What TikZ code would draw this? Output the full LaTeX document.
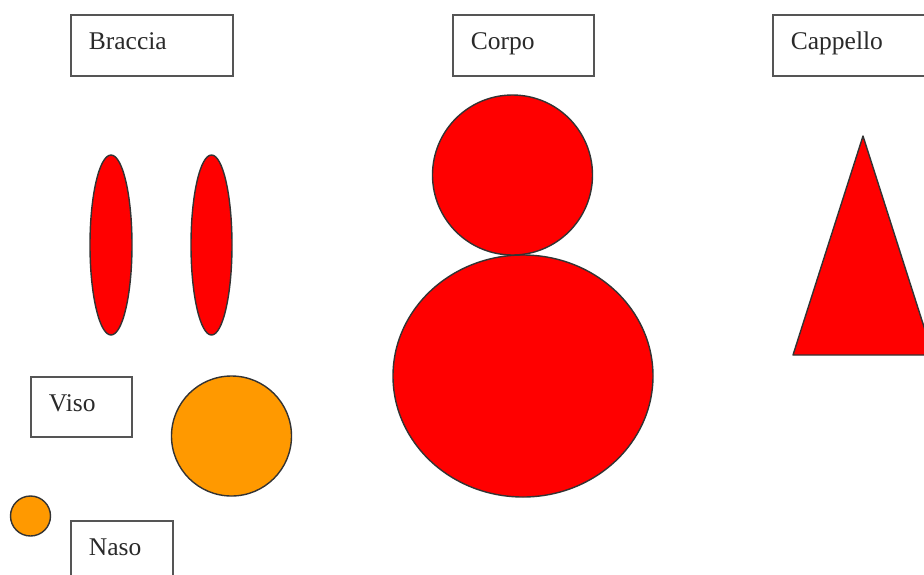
\documentclass[tikz,border=0pt]{standalone}
\usepackage{fontspec}
\setmainfont{Liberation Serif}
\usetikzlibrary{shapes.geometric}
\definecolor{redfill}{HTML}{FF0000}
\definecolor{orangefill}{HTML}{FF9900}
\definecolor{boxline}{HTML}{555555}
\definecolor{txt}{HTML}{2A2A2A}
\tikzset{
  lblbox/.style={draw=boxline, line width=1.8pt, fill=white, rectangle, anchor=north west,
    minimum height=61pt, inner xsep=18pt, inner ysep=0pt, text height=18pt, text depth=9pt,
    align=left, text=txt, font=\fontsize{25.5pt}{28pt}\selectfont},
  redshape/.style={fill=redfill, draw=black!80, line width=1.4pt},
  orangeshape/.style={fill=orangefill, draw=black!80, line width=1.4pt}
}
\begin{document}
\begin{tikzpicture}[x=1pt,y=-1pt]
\useasboundingbox (0,0) rectangle (924,574);
\clip (0,0) rectangle (924,574);
\fill[white] (0,0) rectangle (924,574);
% labels
\node[lblbox, minimum width=162pt, text width=126pt] (braccia) at (70,14) {Braccia};
\node[lblbox, minimum width=141pt, text width=105pt] (corpo) at (452,14) {Corpo};
\node[lblbox, minimum width=170pt, text width=134pt] (cappello) at (772,14) {Cappello};
\node[lblbox, minimum width=101pt, minimum height=60pt, text width=65pt] (viso) at (30,376) {Viso};
\node[lblbox, minimum width=102pt, text width=66pt] (naso) at (70,520) {Naso};
% arms
\draw[redshape] (111,245) ellipse [x radius=21, y radius=90];
\draw[redshape] (211.5,245) ellipse [x radius=20.5, y radius=90];
% body
\draw[redshape] (523,376) ellipse [x radius=130, y radius=121];
\draw[redshape] (512.5,175) circle [radius=80];
% hat
\draw[redshape, line join=round] (863,136) -- (933,355) -- (793,355) -- cycle;
% face and nose
\draw[orangeshape] (231.5,436) circle [radius=60];
\draw[orangeshape] (30.5,516) circle [radius=20];
\end{tikzpicture}
\end{document}
